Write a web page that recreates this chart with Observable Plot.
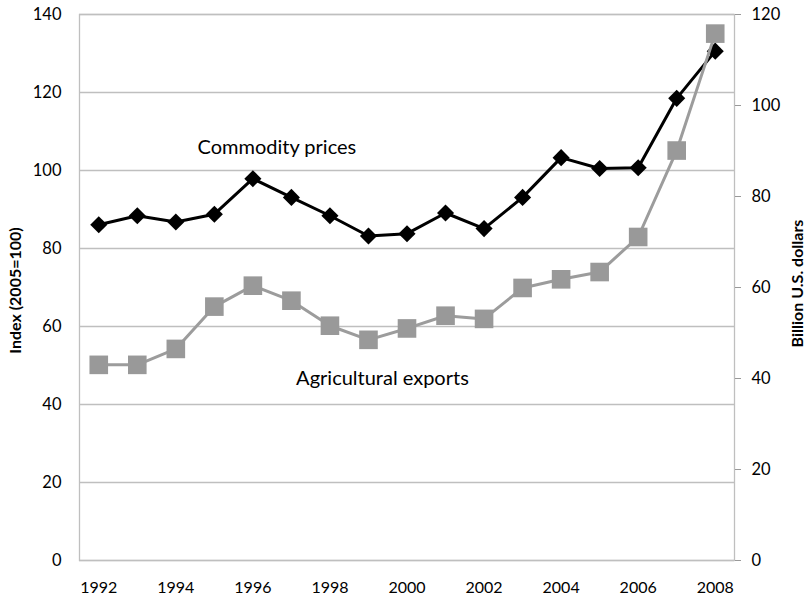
<!DOCTYPE html>
<html>
<head>
<meta charset="utf-8">
<script src="https://cdn.jsdelivr.net/npm/d3@7"></script>
<script src="https://cdn.jsdelivr.net/npm/@observablehq/plot@0.6"></script>
<style>
  html, body { margin: 0; padding: 0; background: #fff; }
  #chart svg { display: block; }
</style>
</head>
<body>
<div id="chart"></div>
<script>
const years = [1992,1993,1994,1995,1996,1997,1998,1999,2000,2001,2002,2003,2004,2005,2006,2007,2008];
const commodityPrices = [86.1,88.4,86.8,88.8,97.9,93.1,88.4,83.2,83.8,89.1,85.1,93.1,103.3,100.5,100.7,118.5,130.6];
const agExports = [43.0,43.0,46.5,55.8,60.4,57.1,51.6,48.5,51.0,53.8,53.1,59.9,61.8,63.4,71.1,90.1,115.8];
const xTickYears = [1992,1994,1996,1998,2000,2002,2004,2006,2008];
const leftTicks = [0,20,40,60,80,100,120,140];
const rightTicks = [0,20,40,60,80,100,120];
const leftMax = 140, rightMax = 120;
const toLeft = v => v * leftMax / rightMax;

const priceData = years.map((year, i) => ({year, value: commodityPrices[i]}));
const exportData = years.map((year, i) => ({year, value: toLeft(agExports[i])}));

const font = "Lato, 'Open Sans', sans-serif";

const chart = Plot.plot({
  width: 805,
  height: 602,
  marginLeft: 79,
  marginRight: 71,
  marginTop: 14,
  marginBottom: 42,
  style: {fontFamily: font, fontSize: "16px", color: "#000", background: "#fff"},
  x: {type: "point", domain: years, padding: 0.5, round: false, label: null},
  y: {domain: [0, leftMax], label: null},
  marks: [
    Plot.gridY(leftTicks, {stroke: "#bfbfbf", strokeOpacity: 1, strokeWidth: 1.3}),
    Plot.frame({stroke: "#bfbfbf", strokeWidth: 1.3}),
    Plot.axisX(xTickYears, {tickSize: 0, tickPadding: 21, tickFormat: d => String(d), fontSize: 16, label: null}),
    Plot.axisY(leftTicks, {anchor: "left", tickSize: 0, tickPadding: 18, fontSize: 16.5, label: null}),
    Plot.axisY(rightTicks.map(toLeft), {anchor: "right", tickSize: 6, tickPadding: 11, stroke: "#999",
      tickFormat: v => String(Math.round(v * rightMax / leftMax)), fontSize: 16.5, label: null}),
    Plot.line(priceData, {x: "year", y: "value", stroke: "#000", strokeWidth: 3}),
    Plot.dot(priceData, {x: "year", y: "value", symbol: "diamond2", r: 7.7, fill: "#000", stroke: "none"}),
    Plot.line(exportData, {x: "year", y: "value", stroke: "#9c9c9c", strokeWidth: 3}),
    Plot.dot(exportData, {x: "year", y: "value", symbol: "square", r: 10.5, fill: "#999", stroke: "none"}),
    Plot.text(["Commodity prices"], {x: () => 1996, y: () => 105.8, dx: 24, fontSize: 20, fill: "#000"}),
    Plot.text(["Agricultural exports"], {x: () => 1999, y: () => 46.6, dx: 14, fontSize: 20, fill: "#000"}),
    Plot.text(["Index (2005=100)"], {frameAnchor: "left", textAnchor: "middle", rotate: -90, dx: -64, dy: 3, fontSize: 16, fontWeight: "bold", fill: "#000"}),
    Plot.text(["Billion U.S. dollars"], {frameAnchor: "right", textAnchor: "middle", rotate: -90, dx: 63, dy: -4, fontSize: 16, fontWeight: "bold", fill: "#000"})
  ]
});
document.getElementById("chart").append(chart);
</script>
</body>
</html>
